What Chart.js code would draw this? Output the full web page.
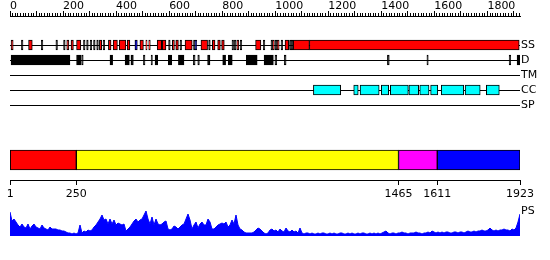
<!DOCTYPE html>
<html>
<head>
<meta charset="utf-8">
<script src="https://cdn.jsdelivr.net/npm/chart.js@4.4.1/dist/chart.umd.min.js"></script>
<style>
body{margin:0;background:#fff}
#wrap{position:relative;width:550px;height:260px}
#wrap canvas{position:absolute;left:0;top:0}
</style>
</head>
<body>
<div id="wrap">
<canvas id="ruler" width="550" height="260"></canvas>
<canvas id="tracks" width="550" height="260"></canvas>
<canvas id="domains" width="550" height="260"></canvas>
<canvas id="ps" width="550" height="260"></canvas>
</div>
<script>
// sequence length and feature tracks (residue numbers)
const seqLength=1923
const trackNames=['SS','D','TM','CC','SP']

const ssRed=[[4,12],[70,84],[214,222],[230,239],[251,267],[337,346],[371,381],[389,405],[412,437],[442,452],[490,503],[512,517],[523,529],[555,572],[574,588],[612,620],[625,635],[660,687],[720,745],[763,773],[783,793],[798,808],[855,863],[926,946],[990,997],[1007,1015],[1037,1051],[1068,1129],[1129,1920]]
const ssBlue=[[471,480],[698,704]]
const ssMarks=[46,121,176,205,280,292,305,318,330,354,601,644,695,752,840,849,871,958,987,1003,1025,1057,1063]
const dBoxes=[[4,226],[251,267],[270,276],[377,387],[434,450],[456,465],[503,509],[532,537],[547,557],[597,610],[635,656],[691,698],[708,714],[745,754],[802,813],[823,838],[891,932],[958,993],[999,1006],[1034,1041],[1423,1430],[1572,1577],[1882,1888],[1912,1923]]
const ccBoxes=[[1144,1247],[1296,1313],[1320,1392],[1400,1428],[1434,1502],[1504,1541],[1545,1580],[1586,1613],[1626,1711],[1716,1773],[1796,1845]]

// domains
const domainStarts=[1,250,1465,1611]
const domainEnds=[250,1465,1611,1923]
const domainTicks=[1,250,1465,1611,1923]
const domainColors=['#ff0000','#ffff00','#ff00ff','#0000ff']

// PS profile, read along the sequence
const psValues=[24,15,17,14,11,9,12,9,8,12,7,10,12,9,8,7,11,8,7,6,9,7,7,7,6,6,5,5,4,3,3,2,3,2,3,11,3,5,4,6,5,6,9,11,14,17,21,16,17,12,17,12,16,11,13,12,11,12,5,7,9,12,15,17,14,16,17,21,25,17,12,19,11,17,12,11,12,14,15,7,6,7,10,9,7,9,11,12,17,22,16,7,11,14,8,12,14,11,11,17,14,7,7,9,11,12,13,12,14,9,11,16,12,21,11,7,6,4,3,3,3,3,4,6,8,7,5,3,2,3,6,7,
5,6,4,7,5,4,8,5,4,6,4,5,3,8,
3,2,3,3,2,3,2,2,3,2,3,3,2,2,3,2,3,2,2,3,3,2,2,3,2,3,2,2,3,2,3,3,2,2,3,2,3,2,3,2,
3,4,5,3,2,3,3,2,3,3,4,3,3,2,3,3,3,4,3,3,2,3,3,4,3,
5,4,3,4,3,4,3,4,4,3,3,4,4,3,4,4,3,4,5,4,
4,5,4,5,5,6,5,5,6,8,6,5,6,5,6,6,7,6,6,5,7,6,8,14,22]

Chart.defaults.font.family='DejaVu Sans'
Chart.defaults.font.size=11
Chart.defaults.color='#000'
Chart.defaults.animation=false
Chart.defaults.plugins.legend.display=false
Chart.defaults.plugins.tooltip.enabled=false

const range=(a,b,s)=>{let r=[];for(let v=a;v<=b;v+=s)r.push({value:v});return r}

// ruler
new Chart(document.getElementById('ruler'),{
    type:'line',
    data:{datasets:[]},
    options:{
        responsive:false,
        layout:{padding:{left:10,right:30,top:0,bottom:230}},
        scales:{
            y:{display:false},
            xMinor:{
                type:'linear',position:'top',display:true,weight:0,min:0,max:seqLength,
                afterBuildTicks:s=>{s.ticks=range(0,1920,10)},
                afterFit:s=>{s.height=0},
                ticks:{display:false,autoSkip:false},
                grid:{drawOnChartArea:false,tickLength:3,color:'#000'},
                border:{display:true,color:'#000'}
            },
            x:{
                type:'linear',position:'top',display:true,weight:1,min:0,max:seqLength,
                afterBuildTicks:s=>{s.ticks=range(0,1900,100)},
                afterFit:s=>{s.height=16},
                ticks:{autoSkip:false,maxRotation:0,align:'start',padding:-2,
                    callback:v=>v%200==0?String(v):''},
                grid:{drawOnChartArea:false,tickLength:5,color:'#000'},
                border:{display:false}
            }
        }
    }
})

// feature tracks
const rows=(list,name)=>list.map(r=>({x:r,y:name}))
const trackSet=(data,color)=>({
    data:data,
    backgroundColor:color,
    borderColor:'#000',
    borderWidth:1,
    borderSkipped:false,
    grouped:false,
    barThickness:10
})
new Chart(document.getElementById('tracks'),{
    type:'bar',
    data:{
        labels:trackNames,
        datasets:[
            trackSet(rows(ssRed,'SS'),'#ff0000'),
            trackSet(rows(ssBlue,'SS'),'#0000ff'),
            trackSet(rows(ssMarks.map(p=>[p-3,p+3]),'SS'),'#000'),
            trackSet(rows(dBoxes,'D'),'#000'),
            trackSet(rows(ccBoxes,'CC'),'#00ffff')
        ]
    },
    options:{
        responsive:false,
        indexAxis:'y',
        layout:{padding:{left:10,right:0,top:37.5,bottom:147.5}},
        scales:{
            x:{type:'linear',min:0,max:seqLength,display:false},
            y:{
                position:'right',
                afterFit:s=>{s.width=30},
                ticks:{padding:1,autoSkip:false},
                grid:{color:'#000',lineWidth:1,offset:false,drawTicks:false},
                border:{display:false}
            }
        }
    }
})

// domain bar
new Chart(document.getElementById('domains'),{
    type:'bar',
    data:{
        labels:['domains'],
        datasets:domainStarts.map((s,i)=>({
            data:[{x:[s,domainEnds[i]],y:'domains'}],
            backgroundColor:domainColors[i],
            borderColor:'#000',
            borderWidth:1,
            borderSkipped:false,
            grouped:false,
            barThickness:20
        }))
    },
    options:{
        responsive:false,
        indexAxis:'y',
        layout:{padding:{left:10,right:30,top:140,bottom:55}},
        scales:{
            y:{display:false},
            x:{
                type:'linear',min:0,max:seqLength,
                afterBuildTicks:s=>{s.ticks=domainTicks.map(v=>({value:v}))},
                afterFit:s=>{s.height=25},
                ticks:{autoSkip:false,maxRotation:0,padding:3,callback:v=>String(v)},
                grid:{drawOnChartArea:false,tickLength:5,color:'#000'},
                border:{color:'#000'}
            }
        }
    }
})

// PS profile
const psStep=seqLength/(psValues.length-1)
new Chart(document.getElementById('ps'),{
    type:'line',
    data:{
        datasets:[{
            data:psValues.map((v,i)=>({x:i*psStep,y:v})),
            borderColor:'#0000ff',
            backgroundColor:'#0000ff',
            borderWidth:1,
            fill:'origin',
            pointRadius:0,
            tension:0
        }]
    },
    options:{
        responsive:false,
        layout:{padding:{left:10,right:0,top:211,bottom:24}},
        scales:{
            x:{type:'linear',min:0,max:seqLength,display:false},
            y:{
                position:'right',min:0,max:25,
                afterBuildTicks:s=>{s.ticks=[{value:25}]},
                afterFit:s=>{s.width=30},
                ticks:{padding:1,callback:()=>'PS'},
                grid:{display:false,drawTicks:false},
                border:{display:false}
            }
        }
    }
})
</script>
</body>
</html>
